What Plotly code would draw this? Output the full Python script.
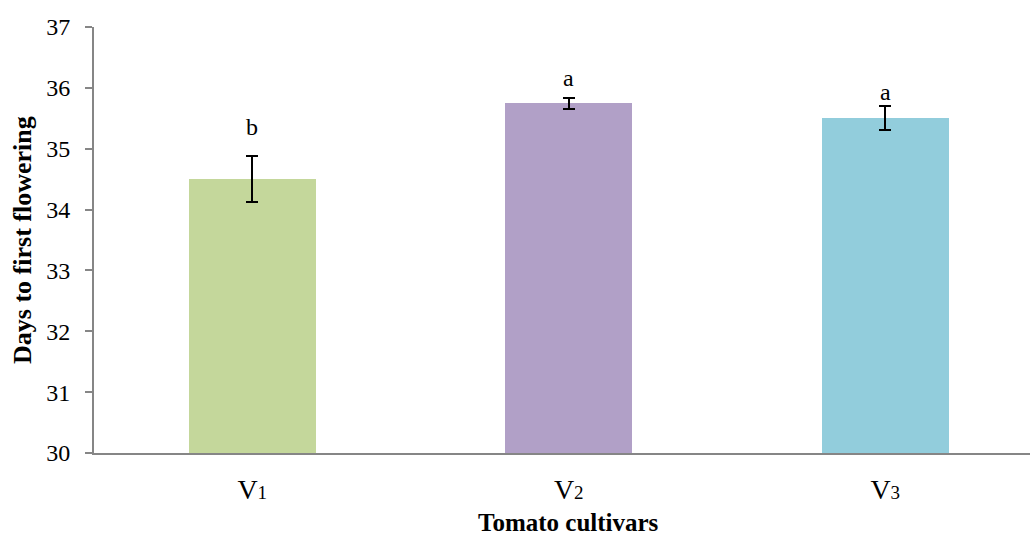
import plotly.graph_objects as go

categories = ["V1", "V2", "V3"]
tick_labels = ["V<span style='font-size:19px'>1</span>",
               "V<span style='font-size:19px'>2</span>",
               "V<span style='font-size:19px'>3</span>"]
values = [34.5, 35.75, 35.5]
errors = [0.38, 0.09, 0.2]
letters = ["b", "a", "a"]
letter_y = [35.36, 36.17, 35.93]
colors = ["#C4D79B", "#B1A0C7", "#92CDDC"]
y_ticks = [30, 31, 32, 33, 34, 35, 36, 37]

xpos = list(range(len(categories)))
FONT = "Liberation Serif"

fig = go.Figure()
fig.add_trace(go.Bar(
    x=xpos, y=values, width=0.4,
    marker=dict(color=colors, line=dict(width=0)),
    error_y=dict(type="data", array=errors, visible=True,
                 color="black", thickness=2, width=6),
    showlegend=False,
))
for xi, yi, t in zip(xpos, letter_y, letters):
    fig.add_annotation(x=xi, y=yi, text=t, showarrow=False,
                       font=dict(family=FONT, size=24, color="black"),
                       yanchor="middle")

fig.add_annotation(xref="paper", yref="paper", x=-0.077, y=0.5,
                   text="<b>Days to first flowering</b>", textangle=-90,
                   showarrow=False, xanchor="center", yanchor="middle",
                   font=dict(family=FONT, size=26, color="black"))
fig.add_annotation(xref="paper", yref="paper", x=(568 - 94) / 936, y=-0.162,
                   text="<b>Tomato cultivars</b>",
                   showarrow=False, xanchor="center", yanchor="middle",
                   font=dict(family=FONT, size=25, color="black"))

fig.update_layout(
    width=1030, height=537,
    margin=dict(l=94, r=0, t=27, b=84),
    paper_bgcolor="white", plot_bgcolor="white",
    font=dict(family=FONT, size=20, color="black"),
    bargap=0,
)
fig.update_xaxes(
    range=[-0.5, -0.5 + 936 / 316.5],
    tickvals=xpos, ticktext=tick_labels,
    showline=True, linecolor="#868686", linewidth=2,
    ticks="", showgrid=False, zeroline=False,
    tickfont=dict(family=FONT, size=28, color="black"),
    ticklabelstandoff=10,
)
fig.update_yaxes(
    range=[30, 37], tickvals=y_ticks,
    showline=True, linecolor="#868686", linewidth=2,
    ticks="outside", ticklen=7, tickcolor="#868686", tickwidth=2,
    showgrid=False, zeroline=False,
    tickfont=dict(family=FONT, size=24, color="black"),
    ticklabelstandoff=10,
)

fig.write_html("out.html")
